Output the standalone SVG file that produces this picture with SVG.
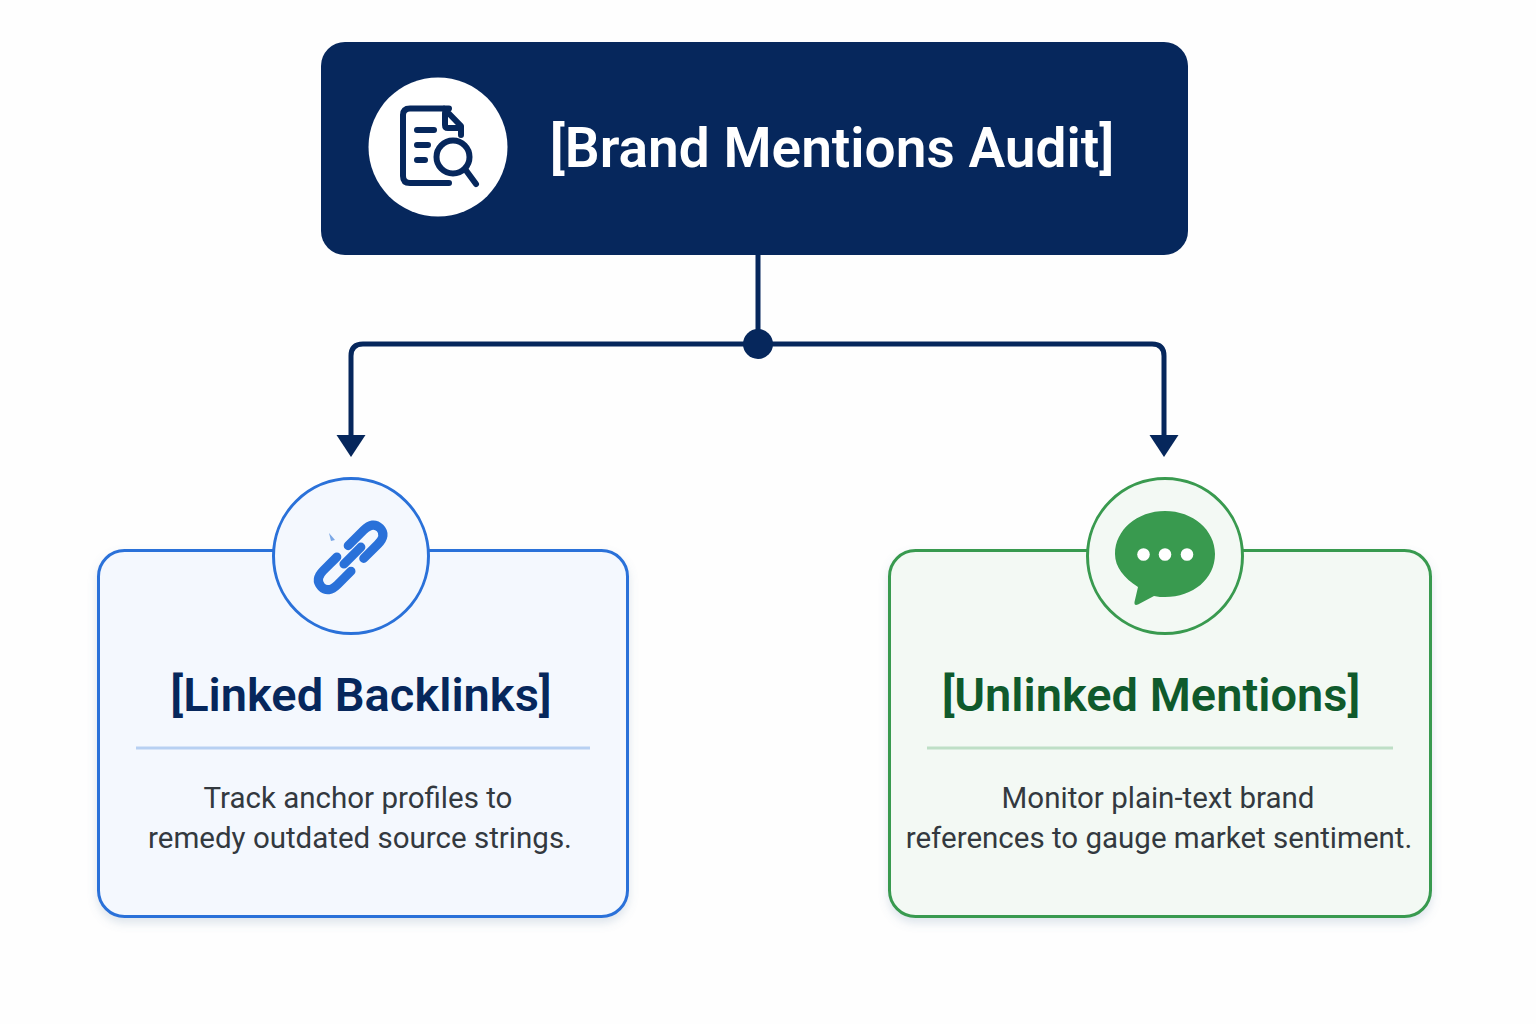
<svg xmlns="http://www.w3.org/2000/svg" width="1536" height="1024" viewBox="0 0 1536 1024">
<style>
text{font-family:Roboto,"Liberation Sans",sans-serif;text-anchor:middle}
.t{font-size:47px;font-weight:600}
.b{font-size:29.5px;fill:#33393f}
.conn{fill:none;stroke:#06275c;stroke-width:5}
.nv{fill:#06275c}
.ic{fill:none;stroke:#06275c;stroke-width:6;stroke-linecap:round;stroke-linejoin:round}
.ln{fill:none;stroke:#2a71d9;stroke-width:9;stroke-linecap:round;stroke-linejoin:round}
</style>
<defs>
<filter id="sh" x="-10%" y="-10%" width="120%" height="120%"><feDropShadow dx="0" dy="5" stdDeviation="5" flood-color="#6a88a8" flood-opacity="0.22"/></filter>
</defs>
<rect width="1536" height="1024" fill="#fefefe"/>
<g id="connectors">
<path class="conn" d="M758 254V344M351 437V356Q351 344 363 344H1152Q1164 344 1164 356V437"/>
<circle class="nv" cx="758" cy="344" r="15"/>
<path class="nv" d="M336.500 435H365.500L351 457Z"/>
<path class="nv" d="M1149.500 435H1178.500L1164 457Z"/>
</g>
<g id="root">
<rect class="nv" x="321" y="42" width="867" height="213" rx="24"/>
<circle cx="438" cy="147" r="69.500" fill="#fff"/>
<path class="ic" d="M449 108.500H410Q403 108.500 403 115V176Q403 183 410 183H449M444 108.500 L461 126V135M445 113V125Q445 128 448 128H460"/>
<path class="ic" d="M417 130H434M417 145H428M417 160H425" stroke-width="5.500"/>
<circle class="ic" cx="453" cy="157" r="16.500"/>
<path class="ic" d="M465 169L476 184" stroke-width="6.500"/>
<text class="t" x="832" y="167" fill="#fff" font-size="55" style="font-size:55px">[Brand Mentions Audit]</text>
</g>
<g id="linked">
<rect x="98.500" y="550.500" width="529" height="366" rx="26" fill="#f4f8fe" stroke="#2a71d9" stroke-width="3" filter="url(#sh)"/>
<circle cx="351" cy="556" r="77.500" fill="#f4f8fe" stroke="#2a71d9" stroke-width="3"/>
<g transform="rotate(-45 351 557)">
<path class="ln" d="M345 547H326Q313 547 313 557Q313 567 326 567H345" transform="translate(-4 0)" stroke-width="9"/>
<path class="ln" d="M357 547H379Q392 547 392 557Q392 567 379 567H359" transform="translate(0 0)"/>
<path class="ln" d="M341 557H365" stroke-width="7"/>
</g>
<path d="M329 533L335 540L331 541Z" fill="#7aa7e6"/>
<text class="t" x="361" y="711" fill="#06275c">[Linked Backlinks]</text>
<path d="M136 748H590" stroke="#b7d0f2" stroke-width="3"/>
<text class="b" x="358" y="808">Track anchor profiles to</text>
<text class="b" x="360" y="848">remedy outdated source strings.</text>
</g>
<g id="unlinked">
<rect x="889.500" y="550.500" width="541" height="366" rx="26" fill="#f3f9f4" stroke="#399a4f" stroke-width="3" filter="url(#sh)"/>
<circle cx="1165" cy="556" r="77.500" fill="#f3f9f4" stroke="#399a4f" stroke-width="3"/>
<path d="M1165 511C1193 511 1215 530 1215 554C1215 579 1193 597 1165 597C1162 597 1158 597 1154 596L1138 604.500Q1134 606 1134.500 602L1138 587C1124 578 1115 567 1115 554C1115 530 1137 511 1165 511Z" fill="#399a4f"/>
<g fill="#fff"><circle cx="1143.500" cy="554.500" r="6.300"/><circle cx="1165" cy="554.500" r="6.300"/><circle cx="1187" cy="554.500" r="6.300"/></g>
<text class="t" x="1151" y="711" fill="#0f5a2c">[Unlinked Mentions]</text>
<path d="M927 748H1393" stroke="#bedfc6" stroke-width="3"/>
<text class="b" x="1158" y="808">Monitor plain-text brand</text>
<text class="b" x="1159" y="848">references to gauge market sentiment.</text>
</g>
</svg>
